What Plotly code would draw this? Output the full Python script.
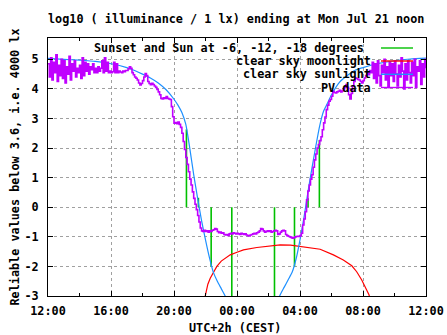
import plotly.graph_objects as go

# x axis: hours elapsed since Sun Jul 20 12:00 (UTC+2)
hour_ticks = [0, 4, 8, 12, 16, 20, 24]
hour_labels = ["12:00", "16:00", "20:00", "00:00", "04:00", "08:00", "12:00"]
y_ticks = [-3, -2, -1, 0, 1, 2, 3, 4, 5]
y_labels = ["-3", "-2", "-1", "0", "1", "2", "3", "4", "5"]

# PV sensor, log10(lx), one sample every 5 minutes (one row per hour)
pv_log = [
    4.85, 4.40, 5.05, 4.30, 4.90, 4.55, 5.15, 4.25, 4.80, 4.45, 5.00, 4.35,
    4.95, 4.20, 4.75, 4.50, 5.10, 4.30, 4.85, 4.60, 4.95, 4.40, 4.70, 4.55,
    4.80, 4.35, 5.05, 4.45, 4.90, 4.60, 4.85, 4.50, 4.75, 4.65, 4.85, 4.55,
    4.70, 4.55, 4.75, 4.60, 4.70, 4.95, 4.55, 5.05, 4.60, 4.90, 4.55, 4.60,
    4.55, 4.58, 4.90, 4.55, 4.85, 4.55, 4.60, 4.57, 4.55, 4.60, 4.58, 4.62,
    4.62, 4.68, 4.75, 4.70, 4.55, 4.48, 4.40, 4.36, 4.30, 4.20, 4.13, 4.18,
    4.28, 4.40, 4.52, 4.45, 4.25, 4.18, 4.14, 4.19, 4.15, 4.10, 4.05, 3.98,
    3.90, 3.80, 3.68, 3.66, 3.70, 3.68, 3.74, 3.68, 3.66, 3.64, 3.40, 3.06,
    2.84, 2.86, 2.82, 2.88, 2.80, 2.70, 2.50, 2.22, 1.95, 1.68, 1.45, 1.20,
    0.95, 0.75, 0.52, 0.30, 0.10, -0.08, -0.28, -0.50, -0.70, -0.80, -0.82, -0.78,
    -0.82, -0.80, -0.84, -0.80, -0.82, -0.78, -0.76, -0.72, -0.74, -0.82, -0.86, -0.84,
    -0.88, -0.86, -0.92, -0.94, -0.92, -0.95, -0.90, -0.88, -0.90, -0.86, -0.88, -0.90,
    -0.88, -0.90, -0.92, -0.88, -0.90, -0.92, -0.90, -0.94, -0.96, -0.97, -0.94, -0.92,
    -0.90, -0.88, -0.90, -0.86, -0.84, -0.80, -0.72, -0.74, -0.80, -0.84, -0.82, -0.80,
    -0.82, -0.80, -0.84, -0.82, -0.80, -0.78, -0.80, -0.92, -0.90, -0.84, -0.80, -0.78,
    -0.80, -0.92, -0.96, -0.98, -1.00, -1.02, -1.05, -1.03, -1.00, -0.99, -0.98, -0.99,
    -0.96, -0.88, -0.60, -0.40, -0.15, 0.25, 0.55, 0.75, 0.95, 1.10, 1.35, 1.60,
    1.80, 2.00, 2.12, 2.25, 2.38, 2.62, 2.85, 3.05, 3.30, 3.45, 3.58, 3.64,
    3.75, 3.92, 3.88, 3.86, 3.90, 3.92, 3.95, 3.90, 3.93, 4.00, 4.05, 4.15,
    4.05, 3.80, 3.66, 3.85, 4.10, 4.25, 4.37, 4.35, 4.32, 4.30, 4.25, 4.20,
    4.28, 4.37, 4.45, 4.54, 4.48, 4.62, 4.55, 4.90, 4.35, 4.85, 4.20, 4.95,
    4.45, 4.10, 4.80, 4.55, 5.00, 4.30, 4.75, 4.05, 4.90, 4.45, 4.85, 4.25,
    4.95, 4.50, 4.10, 4.80, 4.40, 5.05, 4.60, 4.00, 4.85, 4.30, 4.95, 4.55,
    4.20, 4.90, 4.45, 5.00, 4.05, 4.75, 4.60, 4.95, 4.15, 4.85, 4.40, 5.00,
    4.70,
]
pv_hours = [i * 5 / 60 for i in range(len(pv_log))]

# clear sky sunlight model, log10(lx)
sun_model_hours = [0, 1, 2, 3, 4, 5, 5.5, 6, 6.5, 7, 7.5, 8, 8.25, 8.5, 8.75,
                   9, 9.25, 9.5, 9.75, 10, 10.25, 10.5, 10.75, 11, 11.25, 11.5,
                   12, 13, 14, 14.5, 14.75, 15, 15.25, 15.5, 15.75, 16, 16.25,
                   16.5, 16.75, 17, 17.25, 17.5, 17.75, 18, 18.5, 19, 19.5, 20,
                   20.5, 21, 22, 23, 24]
sun_model_log = [5.03, 5.00, 4.97, 4.93, 4.85, 4.72, 4.62, 4.50, 4.37, 4.20,
                 3.97, 3.65, 3.45, 3.20, 2.80, 2.00, 1.10, 0.30, -0.45, -1.10,
                 -1.70, -2.20, -2.50, -2.75, -3.00, -3.20, -3.60, -3.80, -3.60,
                 -3.25, -2.95, -2.70, -2.45, -2.20, -1.75, -1.10, -0.35, 0.50,
                 1.30, 2.05, 2.75, 3.25, 3.52, 3.80, 4.22, 4.45, 4.63, 4.72,
                 4.80, 4.86, 4.95, 5.01, 5.04]

# clear sky moonlight model, log10(lx)
moon_model_hours = [9.9, 10.0, 10.15, 10.3, 10.5, 10.72, 11.0, 11.57, 12.0,
                    12.41, 13.26, 14.31, 14.74, 15.4, 16.01, 17.28, 18.12,
                    18.75, 19.29, 19.6, 19.92, 20.24, 20.38, 20.5]
moon_model_log = [-3.2, -2.93, -2.6, -2.4, -2.2, -2.0, -1.82, -1.61, -1.52,
                  -1.44, -1.36, -1.31, -1.27, -1.28, -1.33, -1.42, -1.61,
                  -1.78, -1.98, -2.18, -2.46, -2.8, -2.96, -3.2]

# sunset, sun at -6, -12, -18 degrees, then the same in the morning
sun_event_hours = [8.79, 9.55, 10.36, 11.67, 14.38, 15.65, 16.51, 17.23]
sun_event_log = [2.63, 0.32, -2.0, -3.0, -3.0, -2.0, 0.30, 2.27]

GREEN = "#00c000"
RED = "#ff0000"
BLUE = "#1e90ff"
PURPLE = "#c000ff"
FONT = "DejaVu Sans Mono"

ev_x, ev_y = [], []
for h, v in zip(sun_event_hours, sun_event_log):
    ev_x += [h, h, None]
    ev_y += [0, v, None]

fig = go.Figure()
fig.add_trace(go.Scatter(x=ev_x, y=ev_y, mode="lines",
                         line=dict(color=GREEN, width=1.6)))
fig.add_trace(go.Scatter(x=moon_model_hours, y=moon_model_log, mode="lines",
                         line=dict(color=RED, width=1.2)))
fig.add_trace(go.Scatter(x=sun_model_hours, y=sun_model_log, mode="lines",
                         line=dict(color=BLUE, width=1.2, shape="spline", smoothing=0.6)))
fig.add_trace(go.Scatter(x=pv_hours, y=pv_log, mode="lines",
                         line=dict(color=PURPLE, width=1.6, shape="hv")))

L, R, T, B = 48, 21, 38, 39
W, H = 447, 335
pw, ph = W - L - R, H - T - B


def px(xp):
    return (xp - L) / pw


def py(yp):
    return (H - B - yp) / ph


tfont = dict(family=FONT, size=11.8, color="black", weight="bold")

annotations = [
    dict(text="log10 ( illuminance / 1 lx) ending at Mon Jul 21 noon",
         x=px(236), y=py(19)),
    dict(text="UTC+2h (CEST)", x=px(235), y=py(327.5)),
    dict(text="Reliable values below 3.6, i.e. 4000 lx", x=px(14), y=py(167.5),
         textangle=-90),
]
for a in annotations:
    a.update(xref="paper", yref="paper", showarrow=False, font=tfont,
             xanchor="center", yanchor="middle")

# key in the top right corner of the plot
key_rows = [("Sunset and Sun at -6, -12, -18 degrees", GREEN, 48, 366),
            ("clear sky moonlight", RED, 61, 373),
            ("clear sky sunlight", BLUE, 74.3, 373),
            ("PV data", PURPLE, 87.5, 373)]
shapes = [dict(type="rect", xref="paper", yref="paper", x0=px(99), x1=1,
               y0=py(92), y1=1, fillcolor="white", line=dict(width=0),
               layer="between")]
for label, col, yp, xr in key_rows:
    annotations.append(dict(text=label, xref="paper", yref="paper",
                            x=px(xr), y=py(yp), xanchor="right",
                            yanchor="middle", showarrow=False, font=tfont))
    shapes.append(dict(type="line", xref="paper", yref="paper",
                       x0=px(381), x1=px(413), y0=py(yp), y1=py(yp),
                       line=dict(color=col, width=1.4), layer="above"))

grid = dict(showgrid=True, gridcolor="#a0a0a0", griddash="3px,3px", gridwidth=1,
            showline=True, linecolor="black", linewidth=1, mirror="allticks",
            ticks="inside", ticklen=5, tickcolor="black", zeroline=False,
            tickfont=tfont, automargin=False)

fig.update_layout(
    width=W, height=H,
    margin=dict(l=L, r=R, t=T, b=B, pad=0, autoexpand=False),
    paper_bgcolor="white", plot_bgcolor="white",
    showlegend=False,
    annotations=annotations,
    shapes=shapes,
    xaxis=dict(range=[0, 24], tickvals=hour_ticks, ticktext=hour_labels,
               minor=dict(dtick=2, ticks="inside", ticklen=3, tickcolor="black",
                          showgrid=False),
               ticklabelstandoff=4, **grid),
    yaxis=dict(range=[-3, 5.72], tickvals=y_ticks, ticktext=y_labels,
               ticklabelstandoff=6, **grid),
)

fig.write_html("out.html")
